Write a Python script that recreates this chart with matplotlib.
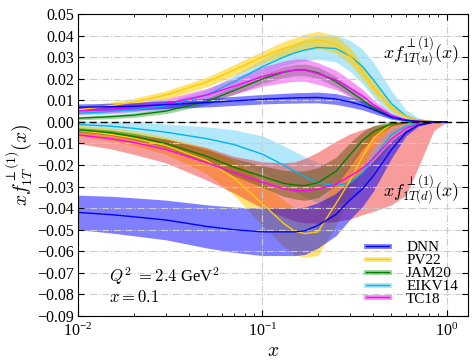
import numpy as np
import matplotlib
matplotlib.use("Agg")
import matplotlib.pyplot as plt
from matplotlib.lines import Line2D
from matplotlib.ticker import LogLocator, MultipleLocator

plt.rcParams['font.family'] = ['Liberation Serif', 'DejaVu Serif']
plt.rcParams['mathtext.fontset'] = 'cm'

x = [0.01, 0.015, 0.02, 0.03, 0.05, 0.07, 0.1, 0.13, 0.15, 0.17, 0.2, 0.25, 0.3, 0.35, 0.4, 0.5, 0.6, 0.7, 0.85, 1.0]

dnn_u = [.0068, .0070, .0072, .0080, .0089, .0097, .0105, .0109, .0111, .0112, .0113, .0106, .0092, .0076, .0057, .0022, .0007, .0002, .0000, 0]
dnn_u_err = [.0015, .0016, .0017, .0018, .0020, .0021, .0022, .0023, .0024, .0024, .0025, .0025, .0024, .0021, .0018, .0010, .0004, .0001, 0, 0]
dnn_d = [-.042, -.043, -.044, -.0455, -.0485, -.0500, -.0510, -.0510, -.0510, -.0505, -.0480, -.0430, -.0360, -.0310, -.0250, -.0130, -.0050, -.0015, -.0002, 0]
dnn_d_err = [.0080, .0085, .0088, .0092, .0100, .0105, .0110, .0110, .0110, .0110, .0105, .0098, .0090, .0080, .0070, .0040, .0015, .0005, 0, 0]

pv22_u = [.0055, .0075, .0092, .0125, .0185, .0240, .0300, .0340, .0355, .0370, .0380, .0360, .0305, .0230, .0160, .0065, .0025, .0008, .0001, 0]
pv22_u_err = [.0015, .0016, .0017, .0019, .0022, .0025, .0028, .0032, .0035, .0037, .0040, .0040, .0038, .0033, .0028, .0016, .0008, .0003, 0, 0]
pv22_d = [-.0040, -.0058, -.0075, -.0110, -.0180, -.0260, -.0380, -.0470, -.0508, -.0518, -.0510, -.0380, -.0270, -.0160, -.0075, -.0010, 0, 0, 0, 0]
pv22_d_err = [.0025, .0030, .0034, .0040, .0060, .0080, .0100, .0108, .0110, .0110, .0110, .0100, .0080, .0060, .0040, .0015, .0005, 0, 0, 0]

jam_u = [.0017, .0024, .0031, .0050, .0095, .0145, .0199, .0230, .0240, .0241, .0228, .0187, .0140, .0100, .0065, .0023, .0007, .0002, 0, 0]
jam_u_err = [.0008, .0009, .0010, .0012, .0015, .0018, .0022, .0025, .0026, .0027, .0027, .0025, .0021, .0017, .0013, .0007, .0003, .0001, 0, 0]
jam_d = [-.0037, -.0050, -.0068, -.0100, -.0160, -.0210, -.0253, -.0285, -.0293, -.0296, -.0282, -.0230, -.0150, -.0085, -.0045, -.0010, -.0003, 0, 0, 0]
jam_d_err = [.0010, .0012, .0015, .0020, .0030, .0040, .0050, .0060, .0065, .0068, .0070, .0065, .0055, .0040, .0028, .0010, .0004, .0001, 0, 0]

eikv_u = [.0040, .0048, .0056, .0075, .0125, .0185, .0256, .0300, .0320, .0333, .0345, .0340, .0305, .0255, .0195, .0085, .0027, .0008, .0001, 0]
eikv_u_err = [.0010, .0012, .0014, .0018, .0025, .0030, .0035, .0040, .0045, .0050, .0055, .0062, .0072, .0080, .0080, .0060, .0028, .0010, .0002, 0]
eikv_d = [-.0012, -.0020, -.0030, -.0048, -.0078, -.0105, -.0150, -.0200, -.0230, -.0255, -.0283, -.0295, -.0282, -.0235, -.0165, -.0060, -.0020, -.0007, 0, 0]
eikv_d_err = [.0016, .0022, .0028, .0038, .0055, .0068, .0085, .0090, .0092, .0093, .0093, .0090, .0085, .0075, .0060, .0030, .0012, .0004, 0, 0]

tc18_u = [.0050, .0058, .0067, .0085, .0125, .0165, .0210, .0232, .0240, .0240, .0224, .0195, .0155, .0120, .0080, .0030, .0010, .0003, 0, 0]
tc18_u_err = [.0015, .0017, .0019, .0022, .0030, .0037, .0045, .0050, .0052, .0052, .0050, .0045, .0038, .0030, .0022, .0010, .0004, .0001, 0, 0]
tc18_d = [-.0060, -.0078, -.0095, -.0128, -.0190, -.0235, -.0280, -.0310, -.0320, -.0320, -.0312, -.0290, -.0250, -.0215, -.0170, -.0080, -.0030, -.0010, -.0001, 0]
tc18_d_lo = [-.0100, -.0125, -.0150, -.0190, -.0270, -.0330, -.0400, -.0440, -.0460, -.0468, -.0470, -.0462, -.0450, -.0430, -.0415, -.0385, -.0340, -.0210, -.0040, 0]
tc18_d_hi = [-.0040, -.0050, -.0060, -.0080, -.0120, -.0160, -.0185, -.0190, -.0185, -.0170, -.0140, -.0090, -.0055, -.0035, -.0020, -.0008, -.0003, -.0001, 0, 0]

labels = ['DNN', 'PV22', 'JAM20', 'EIKV14', 'TC18']
line_colors = ['#0000ff', '#ffcc00', '#008000', '#00b4f0', '#ff00ff']
band_u_colors = ['#0000ff', '#ffcc00', '#44aa44', '#55ccf5', '#ee22ee']
band_d_colors = ['#0000ff', '#ffcc00', '#008000', '#55ccf5', '#ee2222']

X = np.array(x)
fig = plt.figure(figsize=(4.74, 3.64), dpi=100)
ax = fig.add_axes([0.1646, 0.132, 0.8224, 0.8295])

series = [
    (dnn_u, dnn_u_err, dnn_d, dnn_d_err),
    (pv22_u, pv22_u_err, pv22_d, pv22_d_err),
    (jam_u, jam_u_err, jam_d, jam_d_err),
    (eikv_u, eikv_u_err, eikv_d, eikv_d_err),
]
order = [3, 1, 2, 4, 0]
alphas = [0.5, 0.55, 0.5, 0.45, 0.45]
for i in order:
    if i < 4:
        u, ue, d, de = [np.array(a) for a in series[i]]
        ax.fill_between(X, u - ue, u + ue, color=band_u_colors[i], alpha=alphas[i], lw=0)
        ax.fill_between(X, d - de, d + de, color=band_d_colors[i], alpha=alphas[i], lw=0)
    else:
        u = np.array(tc18_u); ue = np.array(tc18_u_err)
        ax.fill_between(X, u - ue, u + ue, color=band_u_colors[4], alpha=0.45, lw=0)
        ax.fill_between(X, tc18_d_lo, tc18_d_hi, color=band_d_colors[4], alpha=0.45, lw=0)

all_lines = [(dnn_u, dnn_d), (pv22_u, pv22_d), (jam_u, jam_d), (eikv_u, eikv_d), (tc18_u, tc18_d)]
for i in order:
    u, d = all_lines[i]
    ax.plot(X, u, color=line_colors[i], lw=1.0)
    ax.plot(X, d, color=line_colors[i], lw=1.0)

ax.axhline(0, color='black', ls='--', lw=1.0, dashes=(5, 3))

ax.set_xscale('log')
ax.set_xlim(0.01, 1.3)
ax.set_ylim(-0.09, 0.05)
ax.yaxis.set_major_locator(MultipleLocator(0.01))
ax.yaxis.set_major_formatter(matplotlib.ticker.FuncFormatter(lambda v, p: f"{v:.2f}".replace('-', '\u2212')))
ax.xaxis.set_major_locator(LogLocator(base=10, numticks=10))
ax.xaxis.set_minor_locator(LogLocator(base=10, subs=np.arange(2, 10), numticks=20))
ax.tick_params(which='both', direction='in', top=True, right=True, labelsize=11.5)
ax.tick_params(axis='y', pad=3)
ax.tick_params(axis='x', pad=5)
ax.tick_params(which='major', length=4)
ax.tick_params(which='minor', length=2)
ax.grid(True, which='major', color='#cccccc', ls='-.', lw=0.8)

ax.set_xlabel('$x$', fontsize=14, labelpad=2)
ax.set_ylabel(r'$x f_{1T}^{\perp(1)}(x)$', fontsize=14, labelpad=2)

ax.text(0.45, 0.0325, r'$x f_{1T(u)}^{\perp(1)}(x)$', fontsize=13, va='center', ha='left')
ax.text(0.45, -0.0315, r'$x f_{1T(d)}^{\perp(1)}(x)$', fontsize=13, va='center', ha='left')
ax.text(0.0148, -0.0715, r'$Q^2\ =2.4$ GeV$^2$', fontsize=12, va='center', ha='left')
ax.text(0.0148, -0.0815, r'$x=0.1$', fontsize=12, va='center', ha='left')

handles = []
for i in range(5):
    thin = Line2D([], [], color=line_colors[i], lw=1.0)
    thick = Line2D([], [], color=band_u_colors[i], lw=3.5, alpha=0.5)
    handles.append((thick, thin))
ax.legend(handles, labels, loc='lower right', frameon=False, fontsize=11,
          handlelength=1.5, labelspacing=-0.05, handletextpad=1.1,
          bbox_to_anchor=(1.01, -0.012))

fig.savefig('out.png', dpi=100)
